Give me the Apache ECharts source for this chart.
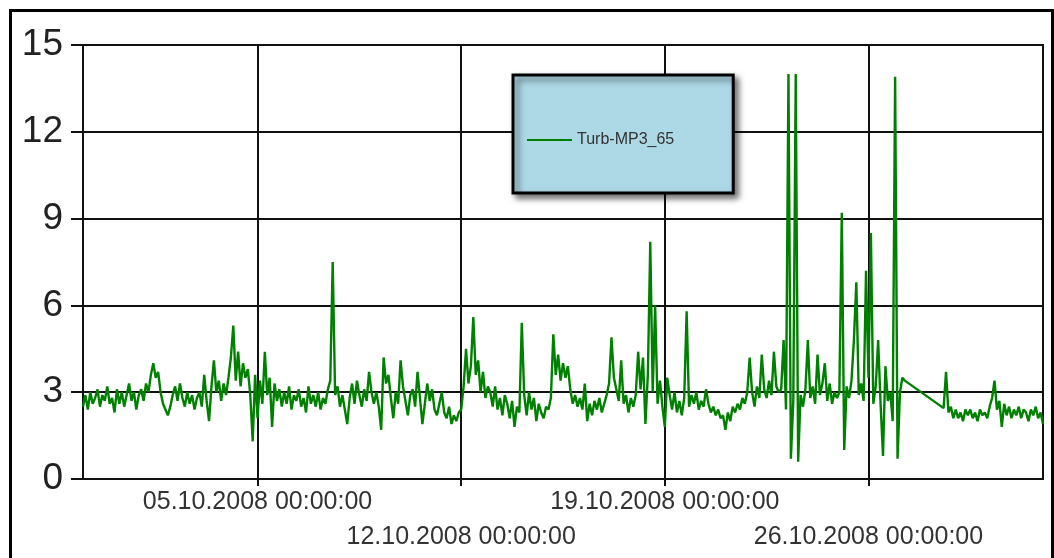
<!DOCTYPE html>
<html>
<head>
<meta charset="utf-8">
<script src="https://cdn.jsdelivr.net/npm/echarts@6/dist/echarts.min.js"></script>
<style>
html, body { margin: 0; padding: 0; background: #fff; }
#mychart { width: 1054px; height: 558px; }
</style>
</head>
<body>
<div id="mychart"></div>
<script>
// 数据: 2小时一个点, 从 29.09.2008 00:00 开始
var startTime = new Date(2008, 8, 29, 0, 0, 0).getTime();
var endTime = new Date(2008, 10, 1, 0, 0, 0).getTime();
var stepHours = 2;
var seriesName = 'Turb-MP3_65';
var tickDates = [
    new Date(2008, 9, 5).getTime(),
    new Date(2008, 9, 12).getTime(),
    new Date(2008, 9, 19).getTime(),
    new Date(2008, 9, 26).getTime()
];
// 标签分两行交错显示
var labelRow1 = [tickDates[0], tickDates[2]];
var labelRow2 = [tickDates[1], tickDates[3]];
var yTicks = [0, 3, 6, 9, 12, 15];
var turb = [
    2.5, 2.9, 2.4, 3.0, 2.6, 2.8, 3.1, 2.5, 2.9, 2.7, 3.2, 2.6,
    2.8, 2.3, 3.1, 2.6, 3.0, 2.5, 2.9, 3.3, 2.7, 3.0, 2.4, 2.9,
    3.1, 2.7, 3.3, 3.0, 3.6, 4.0, 3.5, 3.7, 3.0, 2.6, 2.4, 2.2,
    2.5, 2.9, 3.2, 2.7, 3.3, 2.8, 2.5, 3.0, 2.6, 2.9, 2.4, 2.8,
    3.0, 2.5, 3.6, 2.7, 2.0, 3.2, 4.1, 3.0, 3.4, 2.7, 3.3, 2.9,
    3.5, 4.2, 5.3, 3.4, 4.4, 3.2, 4.0, 3.5, 3.8, 2.9, 1.3, 3.6,
    2.1, 3.4, 2.6, 4.4, 2.9, 3.5, 1.8, 3.3, 2.7, 3.1, 2.5, 3.0,
    2.6, 3.2, 2.4, 2.9, 2.7, 3.1, 2.5, 2.8, 2.3, 3.2, 2.6, 2.9,
    2.5, 3.0, 2.4, 2.8, 2.6, 3.1, 3.4, 7.5, 2.9, 3.2, 2.5, 2.9,
    2.4, 1.9, 2.8, 3.3, 2.6, 3.4, 2.9, 2.5, 3.1, 2.7, 3.7, 3.0,
    2.6, 3.0, 2.5, 1.7, 4.2, 3.3, 3.6, 2.8, 2.1, 3.0, 2.6, 4.1,
    3.2, 2.7, 2.2, 2.9, 3.1, 2.5, 3.7, 2.8, 1.9, 2.6, 3.3, 2.7,
    3.1, 2.4, 2.2, 2.6, 3.0, 2.3, 2.1, 2.5, 1.9, 2.2, 2.0, 2.3,
    2.4, 3.2, 4.5, 3.3, 3.9, 5.6, 3.6, 4.1, 3.0, 3.7, 2.8, 3.2,
    3.0, 2.5, 3.2, 2.4, 2.8, 2.2, 2.9, 2.6, 2.1, 2.7, 1.8, 2.5,
    2.3, 5.4, 2.9, 2.2, 3.0, 2.4, 2.8, 2.0, 2.6, 2.3, 2.1, 2.5,
    2.4, 2.8, 5.0, 3.6, 4.3, 3.4, 4.0, 3.5, 3.9, 3.1, 2.6, 2.9,
    2.5, 2.8, 2.4, 3.3, 2.0, 2.6, 2.2, 2.7, 2.4, 2.8, 2.3, 2.6,
    2.9, 3.3, 4.9, 3.5, 3.1, 2.7, 4.1, 2.6, 2.9, 2.3, 2.8, 2.5,
    2.9, 4.4, 3.1, 4.2, 1.9, 3.6, 8.2, 3.0, 6.0, 2.6, 3.4, 2.5,
    1.8, 3.5, 2.9, 2.4, 3.0, 2.3, 2.7, 2.2, 2.8, 5.8, 2.5, 2.9,
    2.6, 3.0, 2.4, 2.7, 2.5, 3.1, 2.6, 2.3, 2.5, 2.2, 2.4, 2.1,
    2.2, 1.7, 2.3, 2.0, 2.5, 2.3, 2.6, 2.4, 2.8, 2.6, 3.0, 4.2,
    3.0, 2.5, 3.2, 2.8, 4.3, 3.1, 2.8, 3.4, 2.9, 4.4, 3.2, 3.0,
    3.1, 4.8, 2.4, 14.0, 0.7, 2.7, 14.0, 0.6, 2.9, 2.5, 3.1, 4.8,
    2.8, 3.2, 2.6, 4.3, 2.9, 3.3, 4.0, 2.7, 3.3, 2.6, 3.0, 2.8,
    3.0, 9.2, 1.0, 3.2, 2.8, 3.4, 4.8, 6.8, 2.9, 3.3, 2.7, 7.2,
    3.5, 8.5, 2.6, 3.2, 4.8, 2.6, 0.8, 3.9, 2.7, 3.0, 2.0, 13.9,
    0.7, 3.0, 3.5, 3.4, null, null, null, null, null, null, null, null,
    null, null, null, null, null, null, null, 2.45, 3.7, 2.3, 2.5, 2.1,
    2.4, 2.1, 2.3, 2.0, 2.4, 2.2, 2.4, 2.1, 2.3, 2.0, 2.4, 2.2,
    2.3, 2.1, 2.5, 2.8, 3.4, 2.4, 2.7, 1.8, 2.6, 2.2, 2.5, 2.1,
    2.4, 2.2, 2.5, 2.1, 2.4, 2.3, 2.0, 2.4, 2.2, 2.5, 2.1, 2.3,
    1.9
];

function pad(n) {
    return n < 10 ? '0' + n : '' + n;
}

//日期格式 dd.MM.yyyy HH:mm:ss
function formatTime(value) {
    var d = new Date(value);
    return pad(d.getDate()) + '.' + pad(d.getMonth() + 1) + '.' + d.getFullYear() + ' ' +
        pad(d.getHours()) + ':' + pad(d.getMinutes()) + ':' + pad(d.getSeconds());
}

var points = [];
for (var i = 0; i < turb.length; i++) {
    points.push([startTime + i * stepHours * 3600 * 1000, turb[i]]);
}

var labelStyle = {
    fontFamily: 'Liberation Sans, Arial, sans-serif',
    fontSize: 25,
    color: '#333'
};

var myChart = echarts.init(document.getElementById('mychart'));
myChart.setOption({
    animation: false,
    backgroundColor: '#fff',
    graphic: [
        {
            type: 'rect',
            left: 8,
            top: 8,
            shape: { width: 1042, height: 600 },
            style: { fill: 'none', stroke: '#000', lineWidth: 3 },
            silent: true
        }
    ],
    legend: {
        left: 513,
        top: 75,
        padding: [57, 59, 45, 14],
        backgroundColor: '#add8e6',
        borderColor: '#000',
        borderWidth: 3,
        borderRadius: 0,
        shadowColor: 'rgba(0, 0, 0, 0.55)',
        shadowBlur: 6,
        shadowOffsetX: 4,
        shadowOffsetY: 4,
        itemWidth: 45,
        itemHeight: 2,
        textStyle: {
            fontFamily: 'Liberation Sans, Arial, sans-serif',
            fontSize: 16,
            color: '#333'
        },
        data: [{ name: seriesName, icon: 'rect' }]
    },
    grid: {
        left: 83,
        right: 11,
        top: 45,
        bottom: 79,
        show: true,
        borderColor: '#111',
        borderWidth: 2
    },
    xAxis: [
        {
            type: 'value',
            min: startTime,
            max: endTime,
            axisLine: { show: true, lineStyle: { color: '#111', width: 2 } },
            axisTick: {
                show: true,
                length: 7,
                customValues: tickDates,
                lineStyle: { color: '#111', width: 2 }
            },
            splitLine: { show: true, lineStyle: { color: '#111', width: 2 } },
            axisLabel: Object.assign({
                customValues: labelRow1,
                showMinLabel: true,
                showMaxLabel: true,
                margin: 11,
                formatter: formatTime
            }, labelStyle)
        },
        {
            // 第二行标签
            type: 'value',
            position: 'bottom',
            min: startTime,
            max: endTime,
            axisLine: { show: false },
            axisTick: { show: false },
            splitLine: { show: false },
            axisLabel: Object.assign({
                customValues: labelRow2,
                showMinLabel: true,
                showMaxLabel: true,
                margin: 46,
                formatter: formatTime
            }, labelStyle)
        }
    ],
    yAxis: {
        type: 'value',
        min: yTicks[0],
        max: yTicks[yTicks.length - 1],
        interval: 3,
        axisLine: { show: true, lineStyle: { color: '#111', width: 2 } },
        axisTick: { show: true, length: 12, lineStyle: { color: '#111', width: 2 } },
        splitLine: { show: true, lineStyle: { color: '#111', width: 2 } },
        axisLabel: {
            margin: 20,
            fontFamily: 'Liberation Sans, Arial, sans-serif',
            fontSize: 37,
            color: '#222',
            padding: [0, 0, 6, 0]
        }
    },
    series: [
        {
            name: seriesName,
            type: 'line',
            xAxisIndex: 0,
            data: points,
            symbol: 'none',
            connectNulls: true,
            lineStyle: { color: '#008000', width: 2.4 },
            itemStyle: { color: '#008000' }
        }
    ]
});
</script>
</body>
</html>
